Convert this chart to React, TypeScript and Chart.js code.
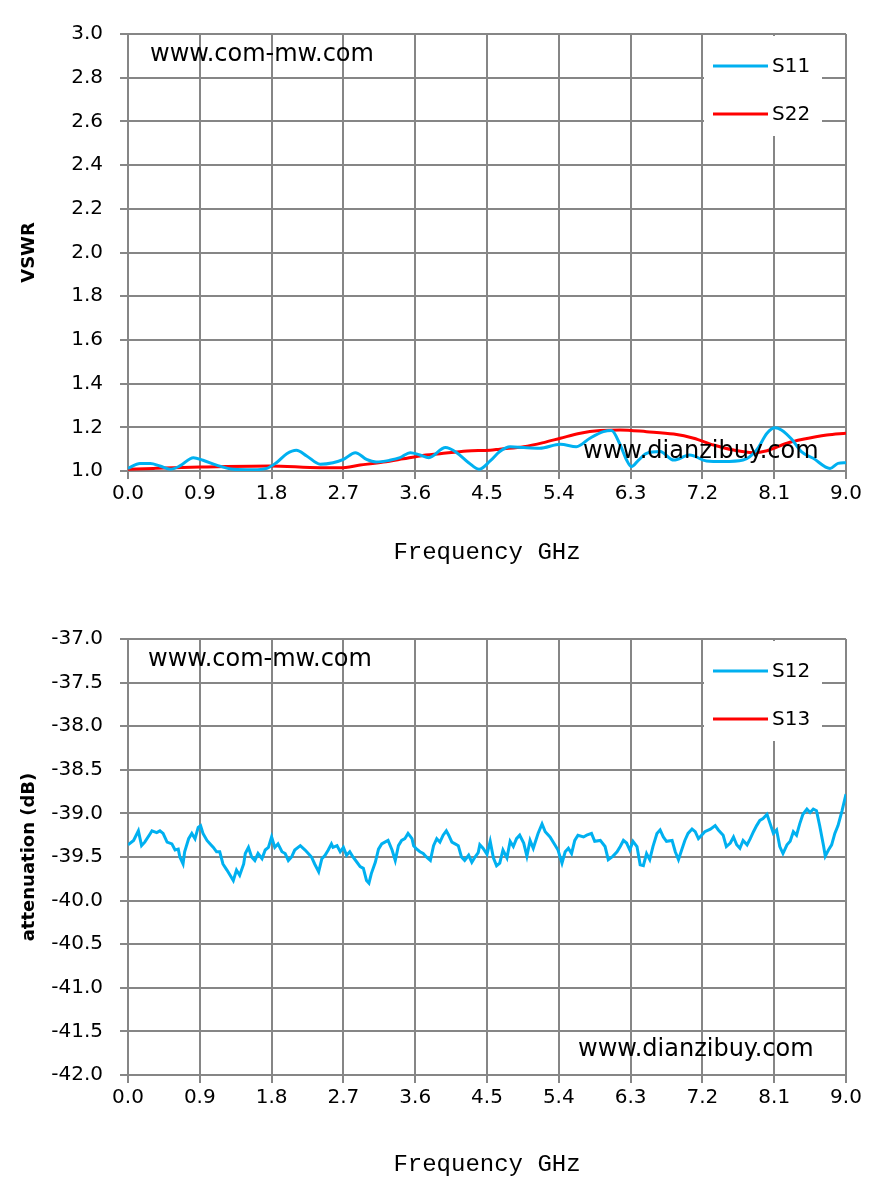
import React, { useRef, useEffect } from 'react';
import Chart from 'chart.js/auto';

// axis ticks
const freqTicks = [0, 0.9, 1.8, 2.7, 3.6, 4.5, 5.4, 6.3, 7.2, 8.1, 9.0];
const vswrTicks = [1.0, 1.2, 1.4, 1.6, 1.8, 2.0, 2.2, 2.4, 2.6, 2.8, 3.0];
const attTicks = [-42, -41.5, -41, -40.5, -40, -39.5, -39, -38.5, -38, -37.5, -37];

// [GHz, VSWR]
const s11Points: [number, number][] = [
    [0.0, 1.012], [0.15, 1.034], [0.28, 1.034], [0.4, 1.023], [0.53, 1.008], [0.65, 1.023],
    [0.82, 1.061], [0.94, 1.049], [1.11, 1.027], [1.32, 1.008], [1.57, 1.006], [1.74, 1.012],
    [1.86, 1.038], [1.99, 1.079], [2.11, 1.095], [2.24, 1.069], [2.41, 1.031], [2.57, 1.038],
    [2.7, 1.053], [2.85, 1.084], [2.99, 1.053], [3.11, 1.041], [3.28, 1.049], [3.41, 1.061],
    [3.54, 1.084], [3.66, 1.073], [3.77, 1.061], [3.98, 1.107], [4.12, 1.084], [4.27, 1.038],
    [4.4, 1.008], [4.54, 1.046], [4.66, 1.089], [4.79, 1.111], [4.96, 1.107], [5.16, 1.104],
    [5.42, 1.122], [5.62, 1.111], [5.79, 1.15], [5.96, 1.18], [6.06, 1.185], [6.17, 1.119],
    [6.25, 1.05], [6.31, 1.02], [6.4, 1.05], [6.5, 1.081], [6.67, 1.089], [6.84, 1.05],
    [7.04, 1.073], [7.25, 1.046], [7.46, 1.043], [7.71, 1.05], [7.88, 1.096], [8.01, 1.173],
    [8.11, 1.198], [8.19, 1.188], [8.32, 1.145], [8.44, 1.089], [8.59, 1.058], [8.8, 1.012],
    [8.9, 1.035], [9.0, 1.038],
];

const s22Points: [number, number][] = [
    [0.0, 1.008], [0.32, 1.012], [0.9, 1.018], [1.78, 1.023], [2.41, 1.015], [2.66, 1.015],
    [2.91, 1.027], [3.2, 1.041], [3.45, 1.056], [3.66, 1.069], [3.91, 1.079], [4.25, 1.092],
    [4.54, 1.095], [4.66, 1.1], [4.96, 1.111], [5.21, 1.13], [5.42, 1.15], [5.67, 1.173],
    [5.92, 1.185], [6.17, 1.188], [6.5, 1.18], [6.84, 1.169], [7.09, 1.15], [7.34, 1.119],
    [7.59, 1.096], [7.84, 1.084], [8.01, 1.093], [8.26, 1.127], [8.46, 1.145], [8.76, 1.165],
    [9.0, 1.173],
];

// [GHz, dB]
const s12Points: [number, number][] = [
    [0.0, -39.36], [0.07, -39.31], [0.13, -39.2], [0.17, -39.37], [0.21, -39.33], [0.28, -39.23],
    [0.3, -39.2], [0.36, -39.22], [0.4, -39.2], [0.44, -39.23], [0.49, -39.33], [0.55, -39.35],
    [0.59, -39.42], [0.63, -39.41], [0.65, -39.5], [0.69, -39.58], [0.71, -39.44], [0.76, -39.29],
    [0.8, -39.23], [0.84, -39.29], [0.88, -39.16], [0.91, -39.14], [0.94, -39.23], [0.99, -39.31],
    [1.03, -39.35], [1.07, -39.39], [1.11, -39.44], [1.15, -39.44], [1.19, -39.58], [1.24, -39.65],
    [1.28, -39.71], [1.32, -39.77], [1.36, -39.65], [1.4, -39.71], [1.45, -39.58], [1.47, -39.46],
    [1.51, -39.39], [1.55, -39.5], [1.59, -39.54], [1.63, -39.46], [1.68, -39.52], [1.72, -39.42],
    [1.76, -39.39], [1.8, -39.27], [1.84, -39.39], [1.88, -39.35], [1.93, -39.44], [1.97, -39.46],
    [2.01, -39.54], [2.05, -39.5], [2.09, -39.42], [2.16, -39.37], [2.22, -39.42], [2.26, -39.46],
    [2.3, -39.5], [2.34, -39.58], [2.39, -39.67], [2.43, -39.52], [2.47, -39.48], [2.51, -39.42],
    [2.55, -39.35], [2.57, -39.39], [2.62, -39.37], [2.66, -39.44], [2.7, -39.39], [2.74, -39.48],
    [2.78, -39.44], [2.82, -39.5], [2.87, -39.56], [2.91, -39.61], [2.95, -39.63], [2.99, -39.77],
    [3.02, -39.8], [3.05, -39.69], [3.1, -39.56], [3.14, -39.41], [3.18, -39.35], [3.22, -39.33],
    [3.26, -39.31], [3.31, -39.42], [3.35, -39.54], [3.39, -39.37], [3.43, -39.31], [3.47, -39.29],
    [3.51, -39.23], [3.56, -39.29], [3.58, -39.37], [3.62, -39.41], [3.66, -39.44], [3.7, -39.46],
    [3.74, -39.5], [3.79, -39.54], [3.83, -39.37], [3.87, -39.29], [3.91, -39.33], [3.95, -39.25],
    [3.99, -39.2], [4.02, -39.25], [4.06, -39.33], [4.1, -39.35], [4.14, -39.37], [4.18, -39.5],
    [4.22, -39.54], [4.27, -39.48], [4.31, -39.56], [4.35, -39.5], [4.39, -39.45], [4.41, -39.36],
    [4.45, -39.4], [4.5, -39.47], [4.54, -39.32], [4.58, -39.51], [4.62, -39.6], [4.66, -39.57],
    [4.7, -39.42], [4.75, -39.51], [4.79, -39.32], [4.83, -39.38], [4.87, -39.29], [4.91, -39.25],
    [4.96, -39.34], [5.0, -39.49], [5.04, -39.31], [5.08, -39.4], [5.14, -39.23], [5.19, -39.12],
    [5.23, -39.21], [5.29, -39.27], [5.35, -39.36], [5.39, -39.42], [5.44, -39.57], [5.48, -39.44],
    [5.52, -39.4], [5.56, -39.46], [5.6, -39.31], [5.64, -39.25], [5.71, -39.27], [5.75, -39.25],
    [5.81, -39.23], [5.85, -39.32], [5.92, -39.31], [5.98, -39.38], [6.02, -39.53], [6.08, -39.49],
    [6.13, -39.44], [6.17, -39.38], [6.21, -39.31], [6.25, -39.34], [6.29, -39.42], [6.33, -39.32],
    [6.38, -39.38], [6.42, -39.59], [6.46, -39.6], [6.5, -39.46], [6.54, -39.53], [6.58, -39.38],
    [6.63, -39.23], [6.67, -39.19], [6.71, -39.27], [6.75, -39.32], [6.82, -39.31], [6.86, -39.44],
    [6.9, -39.53], [6.94, -39.42], [6.98, -39.31], [7.02, -39.23], [7.07, -39.18], [7.11, -39.21],
    [7.15, -39.29], [7.19, -39.25], [7.23, -39.21], [7.3, -39.18], [7.36, -39.14], [7.4, -39.19],
    [7.46, -39.25], [7.5, -39.38], [7.55, -39.34], [7.59, -39.27], [7.63, -39.36], [7.67, -39.4],
    [7.71, -39.31], [7.76, -39.36], [7.8, -39.29], [7.84, -39.21], [7.88, -39.14], [7.92, -39.08],
    [7.96, -39.06], [8.01, -39.01], [8.05, -39.12], [8.09, -39.23], [8.13, -39.19], [8.17, -39.38],
    [8.21, -39.46], [8.26, -39.36], [8.3, -39.32], [8.34, -39.21], [8.38, -39.25], [8.42, -39.12],
    [8.46, -39.01], [8.51, -38.95], [8.55, -38.99], [8.59, -38.95], [8.63, -38.97], [8.67, -39.14],
    [8.72, -39.38], [8.74, -39.49], [8.78, -39.42], [8.82, -39.36], [8.86, -39.23], [8.9, -39.14],
    [8.95, -38.97], [9.0, -38.78],
];

// S13 sits outside the shown range, only its legend entry is visible
const s13Points: [number, number][] = [];

const BLUE = '#00B0F0';
const RED = '#FF0000';
const GRID = '#868686';
const TICK_FONT = { family: '"DejaVu Sans", sans-serif', size: 20 };

const toXY = (pts: [number, number][]) => pts.map(([x, y]) => ({ x, y }));

// watermarks and the boxed legend, drawn on top of the plot
const overlayPlugin = (wm: { dx: number; dy: number; tlx: number }) => ({
    id: 'overlay',
    afterDatasetsDraw(chart: any) {
        const { ctx, chartArea } = chart;
        ctx.save();
        ctx.fillStyle = '#000';
        ctx.textBaseline = 'middle';
        ctx.textAlign = 'left';
        ctx.font = '24px "DejaVu Sans", sans-serif';
        ctx.fillText('www.com-mw.com', chartArea.left + wm.tlx, chartArea.top + 21);
        ctx.fillText('www.dianzibuy.com', chartArea.left + wm.dx, chartArea.bottom - wm.dy);

        // legend box
        const bx = 704;
        const by = chartArea.top + 2;
        ctx.fillStyle = '#fff';
        ctx.fillRect(bx, by, 118, 100);
        ctx.font = '20px "DejaVu Sans", sans-serif';
        chart.data.datasets.forEach((ds: any, i: number) => {
            const y = chartArea.top + 32 + i * 48;
            ctx.strokeStyle = ds.borderColor;
            ctx.lineWidth = 3;
            ctx.beginPath();
            ctx.moveTo(713, y);
            ctx.lineTo(768, y);
            ctx.stroke();
            ctx.fillStyle = '#000';
            ctx.fillText(ds.label, 772, y + 1);
        });
        ctx.restore();
    },
});

const makeOptions = (cfg: {
    yMin: number;
    yMax: number;
    yTicks: number[];
    yTitle: string;
    padTop: number;
    xAxisHeight: number;
    xTitlePad: number;
}) => ({
    animation: false as const,
    responsive: false,
    layout: { padding: { top: cfg.padTop, right: 37, left: 0, bottom: 0 } },
    plugins: { legend: { display: false }, tooltip: { enabled: false } },
    elements: { point: { radius: 0 } },
    scales: {
        x: {
            type: 'linear' as const,
            min: 0,
            max: 9,
            afterBuildTicks: (axis: any) => {
                axis.ticks = freqTicks.map((v) => ({ value: v }));
            },
            afterFit: (axis: any) => {
                axis.height = cfg.xAxisHeight;
            },
            ticks: {
                callback: (v: any) => Number(v).toFixed(1),
                font: TICK_FONT,
                color: '#000',
                padding: 3,
                maxRotation: 0,
                autoSkip: false,
            },
            grid: { color: GRID, lineWidth: 2, tickLength: 8 },
            border: { color: GRID, width: 2 },
            title: {
                display: true,
                text: 'Frequency GHz',
                color: '#000',
                font: { family: '"Liberation Mono", monospace', size: 24 },
                padding: { top: 0, bottom: cfg.xTitlePad },
            },
        },
        y: {
            type: 'linear' as const,
            min: cfg.yMin,
            max: cfg.yMax,
            afterBuildTicks: (axis: any) => {
                axis.ticks = cfg.yTicks.map((v) => ({ value: v }));
            },
            afterFit: (axis: any) => {
                axis.width = 128;
            },
            ticks: {
                callback: (v: any) => Number(v).toFixed(1),
                font: TICK_FONT,
                color: '#000',
                padding: 17,
                autoSkip: false,
            },
            grid: { color: GRID, lineWidth: 2, tickLength: 8 },
            border: { color: GRID, width: 2 },
            title: {
                display: true,
                text: cfg.yTitle,
                color: '#000',
                font: { family: '"DejaVu Sans", sans-serif', size: 18, weight: 'bold' as const },
                padding: { top: 19, bottom: 0 },
            },
        },
    },
});

const VswrChart = () => {
    const ref = useRef<HTMLCanvasElement>(null);
    useEffect(() => {
        if (!ref.current) return;
        const chart = new Chart(ref.current, {
            type: 'line',
            data: {
                datasets: [
                    {
                        label: 'S11',
                        data: toXY(s11Points),
                        borderColor: BLUE,
                        borderWidth: 3,
                        cubicInterpolationMode: 'monotone',
                    },
                    {
                        label: 'S22',
                        data: toXY(s22Points),
                        borderColor: RED,
                        borderWidth: 3,
                        cubicInterpolationMode: 'monotone',
                    },
                ],
            },
            options: makeOptions({
                yMin: 1,
                yMax: 3,
                yTicks: vswrTicks,
                yTitle: 'VSWR',
                padTop: 34,
                xAxisHeight: 129,
                xTitlePad: 33,
            }) as any,
            plugins: [overlayPlugin({ tlx: 22, dx: 455, dy: 19 })],
        });
        return () => chart.destroy();
    }, []);
    return <canvas ref={ref} width={883} height={600} style={{ display: 'block' }} />;
};

const AttenuationChart = () => {
    const ref = useRef<HTMLCanvasElement>(null);
    useEffect(() => {
        if (!ref.current) return;
        const chart = new Chart(ref.current, {
            type: 'line',
            data: {
                datasets: [
                    {
                        label: 'S12',
                        data: toXY(s12Points),
                        borderColor: BLUE,
                        borderWidth: 3,
                        tension: 0,
                    },
                    {
                        label: 'S13',
                        data: toXY(s13Points),
                        borderColor: RED,
                        borderWidth: 3,
                        tension: 0,
                    },
                ],
            },
            options: makeOptions({
                yMin: -42,
                yMax: -37,
                yTicks: attTicks,
                yTitle: 'attenuation (dB)',
                padTop: 39,
                xAxisHeight: 120,
                xTitlePad: 16,
            }) as any,
            plugins: [overlayPlugin({ tlx: 20, dx: 450, dy: 25 })],
        });
        return () => chart.destroy();
    }, []);
    return <canvas ref={ref} width={883} height={595} style={{ display: 'block' }} />;
};

export default function App() {
    return (
        <div style={{ position: 'absolute', left: 0, top: 0, width: 883, height: 1195, background: '#fff' }}>
            <VswrChart />
            <AttenuationChart />
        </div>
    );
}
